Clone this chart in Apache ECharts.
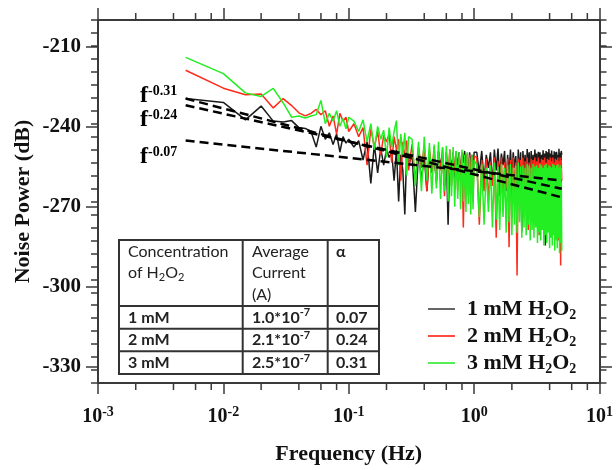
<!DOCTYPE html>
<html><head><meta charset="utf-8">
<script src="https://cdn.jsdelivr.net/npm/echarts@6/dist/echarts.min.js"></script>
<style>html,body{margin:0;padding:0;background:#fff}#c{width:616px;height:470px}</style>
</head><body><div id="c"></div>
<script>
// ---------- data ----------
const freqHz = [
  0.005,0.01,0.015,0.02,0.025,0.03,0.035,0.04,0.045,0.05,0.055,0.06,0.065,0.07,0.075,0.08,0.085,0.09,0.095,0.1,
  0.11,0.12,0.13,0.14,0.15,0.16,0.17,0.18,0.19,0.2,0.21,0.22,0.23,0.24,0.25,0.26,0.27,0.28,0.29,0.3,
  0.32,0.34,0.36,0.38,0.40,0.42,0.44,0.46,0.48,0.50,0.52,0.54,0.56,0.58,0.60,0.62,0.64,0.66,0.68,0.70,
  0.72,0.74,0.76,0.78,0.80,0.82,0.84,0.86,0.88,0.90,0.92,0.94,0.96,0.98,1.00,
  1.05,1.1,1.15,1.2,1.25,1.3,1.35,1.4,1.45,1.5,1.55,1.6,1.65,1.7,1.75,1.8,1.85,1.9,1.95,2.0,
  2.05,2.1,2.15,2.2,2.25,2.3,2.35,2.4,2.45,2.5,2.55,2.6,2.65,2.7,2.75,2.8,2.85,2.9,2.95,3.0,
  3.05,3.1,3.15,3.2,3.25,3.3,3.35,3.4,3.45,3.5,3.55,3.6,3.65,3.7,3.75,3.8,3.85,3.9,3.95,4.0,
  4.05,4.1,4.15,4.2,4.25,4.3,4.35,4.4,4.45,4.5,4.55,4.6,4.65,4.7,4.75,4.8,4.85,4.9,4.95,5.0
];
const noise1mM = [
  -230.3,-231.8,-238.5,-233.2,-239,-239.3,-238.8,-241.5,-241.8,-243,-249,-241,-246,-243.5,-248,-244,-251,-245,-247.5,-246,
  -249,-246.5,-254,-247,-263,-248,-259,-249.5,-256,-250,-253,-251,-262,-250,-270,-252,-258,-275,-251,-256,
  -252,-274,-251,-262,-252,-266,-251.5,-258,-253,-262,-251,-256,-252.5,-264,-251,-279,-252,-258,-251,-262,
  -252.5,-256,-251,-260,-252,-255,-250.5,-258,-252,-263,-251,-256,-252,-259,-251,
  -251,-259,-250.5,-262,-252,-257,-251,-264,-250,-258,-249.6,-261,-251.5,-256,-250.5,-266,-252,-259,-250,-262,
  -251,-257,-252.5,-268,-250,-260,-251,-281.6,-250.5,-258,-252,-263,-249.8,-257,-251,-265,-250.5,-259,-252,-261,
  -250,-256,-251.5,-270,-250.8,-258,-251,-262,-252,-257,-250.2,-279,-251.5,-287,-250.5,-260,-251,-264,-249.8,-258,
  -251.5,-263,-250.3,-257,-252,-275,-250.6,-259,-251,-266,-250.8,-258,-252,-262,-249.7,-257,-251.2,-268,-250.5,-252
];
const noise2mM = [
  -219.4,-226.3,-228.8,-228.5,-233.9,-230.3,-233,-235.8,-237,-236,-234.5,-236.5,-235,-241,-237,-244,-236,-239,-237.5,-243,
  -240,-245,-241.5,-256,-242,-249,-243,-252,-244.5,-247,-244,-255,-245,-250,-246,-262,-247,-253,-246.5,-258,
  -248,-262,-249,-257,-248.5,-266,-250,-259,-249,-263,-250.5,-258,-249.5,-268,-251,-260,-250,-264,-251.5,-259,
  -250.5,-266,-252,-261,-251,-280,-252.5,-263,-251.5,-268,-252,-262,-253,-270,-252.5,
  -253,-279,-254,-266,-253.5,-270,-255,-264,-253,-284,-254.5,-268,-253,-272,-255,-265,-253.5,-287.6,-254,-270,
  -253,-266,-255,-298.5,-253.5,-271,-254,-267,-253,-276,-254.5,-268,-253,-281,-255,-269,-253.5,-273,-254,-266,
  -253,-278,-254.5,-268,-253,-283,-255,-270,-253.5,-267,-254,-275,-253,-269,-255,-280,-253.5,-271,-254,-268,
  -253,-282,-254.5,-270,-253,-274,-255,-269,-253.5,-278,-254,-271,-253,-285,-254.5,-272,-253,-294.7,-254,-262
];
const noise3mM = [
  -214.4,-220.7,-228.1,-229.5,-226.4,-232,-237.5,-237,-237.8,-237,-236.5,-231,-240,-236,-239,-235,-241,-238,-242,-237.5,
  -239,-243,-238.5,-247,-240,-250,-241,-246,-242.5,-253,-241.5,-249,-243,-238.8,-256,-244,-252,-243.5,-260,-245,
  -246,-264,-247,-266,-245,-262,-247.5,-267,-248,-265,-247,-269,-249,-266,-248.5,-270,-250,-268,-249,-272,
  -250.5,-269,-251,-273,-250,-270,-252,-274,-251,-271,-253,-275,-252,-273,-254,
  -256,-276,-255.5,-279,-257,-274,-256,-280,-255,-277,-256.5,-281,-255.5,-276,-257,-282,-256,-278,-255.5,-283,
  -257,-279,-256,-282,-255,-278,-256.5,-284,-256,-280,-257,-283,-255.5,-279,-256,-285,-257,-281,-255.5,-284,
  -256.5,-280,-256,-286,-257,-282,-255.5,-285,-256,-281,-257,-287,-256,-283,-255.5,-286,-257,-282,-256,-288,
  -256.5,-284,-257,-287,-255.5,-283,-256,-289,-257,-285,-256,-288,-255.5,-284,-257,-290,-256,-286,-257,-289
];
const fitFreq = [0.005, 5];
const fit031 = [-230.3, -268.4];
const fit024 = [-232.9, -265.1];
const fit007 = [-246.5, -261.9];
const fitExponents = ['-0.31', '-0.24', '-0.07'];
const seriesConc = ['1', '2', '3'];
const xMinorTicks = [0.002,0.004,0.006,0.008,0.02,0.04,0.06,0.08,0.2,0.4,0.6,0.8,2,4,6,8];
const tableConc = ['1 mM', '2 mM', '3 mM'];
const tableCurrent = ['1.0', '2.1', '2.5'];
const tableCurrentExp = '-7';
const tableAlpha = ['0.07', '0.24', '0.31'];

// ---------- styling ----------
const SERIF = '"Liberation Serif", "Times New Roman", serif';
const SANS = 'Lato, "Open Sans", sans-serif';
const AX = '#3a3a3a';
const Y_MIN = -340, Y_MAX = -200;
const pairs = (xs, ys) => xs.map((x, i) => [x, ys[i]]);

const chart = echarts.init(document.getElementById('c'), null, {renderer: 'canvas'});

const axisLabelRich = {
  b: {fontFamily: SERIF, fontWeight: 'bold', fontSize: 20, lineHeight: 24, color: '#111'},
  s: {fontFamily: SERIF, fontWeight: 'bold', fontSize: 14, lineHeight: 14, verticalAlign: 'top', color: '#111'}
};

const legendNames = seriesConc.map(c => c + ' mM H2O2');
const colors = ['#1a1a1a', '#ff2a1a', '#22ee22'];
const legendColors = ['#666666', '#ff4a40', '#55ee55'];

// table graphic
const TX = 119, TY = 240, TW = 260, TH = 134;
const colX = [TX, 242.7, 327.7, TX + TW];
const rowY = [TY, 306, 328.7, 351.3, TY + TH];
const tRich = {
  a: {fontFamily: SANS, fontSize: 16, color: '#222', lineHeight: 20},
  s: {fontFamily: SANS, fontSize: 11, color: '#222', lineHeight: 11, verticalAlign: 'bottom'},
  p: {fontFamily: SANS, fontSize: 11, color: '#222', lineHeight: 11, verticalAlign: 'top'},
  A: {fontFamily: SANS, fontSize: 16, fontWeight: 'bold', color: '#222', lineHeight: 20},
  P: {fontFamily: SANS, fontSize: 11, fontWeight: 'bold', color: '#222', lineHeight: 11, verticalAlign: 'top'}
};
function tText(x, y, txt) {
  return {type: 'text', x: x, y: y, z: 100,
    style: {text: txt, rich: tRich, fontFamily: SANS, fontSize: 16, fill: '#222',
      align: 'left', verticalAlign: 'middle', textAlign: 'left', textVerticalAlign: 'middle'}};
}
const tableEls = [
  {type: 'rect', z: 99, shape: {x: TX, y: TY, width: TW, height: TH}, style: {fill: '#fff', stroke: '#333', lineWidth: 2}}
];
[colX[1], colX[2]].forEach(x => tableEls.push({type: 'line', z: 99, shape: {x1: x, y1: TY, x2: x, y2: TY + TH}, style: {stroke: '#333', lineWidth: 2}}));
[rowY[1], rowY[2], rowY[3]].forEach(y => tableEls.push({type: 'line', z: 99, shape: {x1: TX, y1: y, x2: TX + TW, y2: y}, style: {stroke: '#333', lineWidth: 2}}));
tableEls.push(tText(128, 252, '{a|Concentration}'));
tableEls.push(tText(128, 273, '{a|of H}{s|2}{a|O}{s|2}'));
tableEls.push(tText(252, 252, '{a|Average}'));
tableEls.push(tText(252, 273, '{a|Current}'));
tableEls.push(tText(252, 295, '{a|(A)}'));
tableEls.push(tText(336, 252, '{A|α}'));
for (let i = 0; i < 3; i++) {
  const cy = (rowY[i + 1] + rowY[i + 2]) / 2;
  tableEls.push(tText(128, cy, '{A|' + tableConc[i] + '}'));
  tableEls.push(tText(252, cy, '{A|' + tableCurrent[i] + '*10}{P|' + tableCurrentExp + '}'));
  tableEls.push(tText(336, cy, '{A|' + tableAlpha[i] + '}'));
}

// fit labels
const fitLabelPos = [[140, 96], [140, 120], [140, 157]];
const fitLabelEls = fitExponents.map((e, i) => ({
  type: 'text', x: fitLabelPos[i][0], y: fitLabelPos[i][1], z: 100,
  style: {text: '{f|f}{s|' + e + '}',
    rich: {
      f: {fontFamily: SERIF, fontWeight: 'bold', fontSize: 24, lineHeight: 24, color: '#111'},
      s: {fontFamily: SERIF, fontWeight: 'bold', fontSize: 14, lineHeight: 14, verticalAlign: 'top', color: '#111'}
    },
    align: 'left', verticalAlign: 'middle', textAlign: 'left', textVerticalAlign: 'middle'}
}));

const option = {
  animation: false,
  backgroundColor: '#fff',
  grid: [
    {left: 98, top: 20, width: 503, height: 373},
    {left: 98, top: 20 + 10 * 373 / 140, width: 503, height: 120 * 373 / 140}
  ],
  xAxis: [
    {type: 'log', logBase: 10, min: 0.001, max: 10, gridIndex: 0, position: 'bottom',
     name: 'Frequency (Hz)', nameLocation: 'middle', nameGap: 60,
     nameTextStyle: {fontFamily: SERIF, fontWeight: 'bold', fontSize: 22, color: '#111'},
     axisLine: {show: true, onZero: false, lineStyle: {color: AX, width: 2}},
     axisTick: {show: true, length: 11, lineStyle: {color: AX, width: 1.5}},
     minorTick: {show: false}, splitLine: {show: false},
     axisLabel: {show: true, margin: 22, formatter: v => '{b|10}{s|' + Math.round(Math.log10(v)) + '}', rich: axisLabelRich}},
    {type: 'log', logBase: 10, min: 0.001, max: 10, gridIndex: 0, position: 'top',
     axisLine: {show: true, onZero: false, lineStyle: {color: AX, width: 2}},
     axisTick: {show: true, length: 12, lineStyle: {color: AX, width: 1.5}},
     splitLine: {show: false}, axisLabel: {show: false}},
    {type: 'value', gridIndex: 1, min: 0, max: 1, show: false}
  ],
  yAxis: [
    {type: 'value', gridIndex: 0, min: Y_MIN, max: Y_MAX, interval: 5, position: 'left',
     name: 'Noise Power (dB)', nameLocation: 'middle', nameGap: 64,
     nameTextStyle: {fontFamily: SERIF, fontWeight: 'bold', fontSize: 22, color: '#111'},
     axisLine: {show: true, onZero: false, lineStyle: {color: AX, width: 2}},
     axisTick: {show: true, length: 7, lineStyle: {color: AX, width: 1.5}},
     splitLine: {show: false}, axisLabel: {show: false}},
    {type: 'value', gridIndex: 0, min: Y_MIN, max: Y_MAX, interval: 5, position: 'right',
     axisLine: {show: true, onZero: false, lineStyle: {color: AX, width: 2}},
     axisTick: {show: true, length: 7, lineStyle: {color: AX, width: 1.5}},
     splitLine: {show: false}, axisLabel: {show: false}},
    {type: 'value', gridIndex: 1, min: -330, max: -210, interval: 30, position: 'left',
     axisLine: {show: false}, splitLine: {show: false},
     axisTick: {show: true, length: 12, lineStyle: {color: AX, width: 1.5}},
     axisLabel: {show: true, margin: 17, fontFamily: SERIF, fontWeight: 'bold', fontSize: 21, color: '#111'}},
    {type: 'value', gridIndex: 1, min: -330, max: -210, interval: 30, position: 'right',
     axisLine: {show: false}, splitLine: {show: false},
     axisTick: {show: true, length: 11, lineStyle: {color: AX, width: 1.5}},
     axisLabel: {show: false}}
  ],
  legend: {
    orient: 'vertical', left: 428, top: 298, padding: 0, itemGap: 3,
    itemWidth: 27, itemHeight: 2, icon: 'rect',
    data: legendNames.map((n, i) => ({name: n, itemStyle: {color: legendColors[i]}})),
    formatter: name => '{n|' + name.split(' ')[0] + ' mM H}{s|2}{n|O}{s|2}',
    textStyle: {
      padding: [0, 0, 0, 7],
      rich: {
        n: {fontFamily: SERIF, fontWeight: 'bold', fontSize: 22, lineHeight: 26, color: '#111'},
        s: {fontFamily: SERIF, fontWeight: 'bold', fontSize: 14, lineHeight: 14, verticalAlign: 'bottom', color: '#111'}
      }
    }
  },
  graphic: tableEls.concat(fitLabelEls),
  series: [
    {name: legendNames[0], type: 'line', xAxisIndex: 0, yAxisIndex: 0, data: pairs(freqHz, noise1mM),
     showSymbol: false, symbol: 'none', lineStyle: {color: colors[0], width: 1.5}, itemStyle: {color: colors[0]}, z: 2},
    {name: legendNames[1], type: 'line', xAxisIndex: 0, yAxisIndex: 0, data: pairs(freqHz, noise2mM),
     showSymbol: false, symbol: 'none', lineStyle: {color: colors[1], width: 1.5}, itemStyle: {color: colors[1]}, z: 3},
    {name: legendNames[2], type: 'line', xAxisIndex: 0, yAxisIndex: 0, data: pairs(freqHz, noise3mM),
     showSymbol: false, symbol: 'none', lineStyle: {color: colors[2], width: 1.5}, itemStyle: {color: colors[2]}, z: 4},
    ...[fit031, fit024, fit007].map(fit => ({
      type: 'line', xAxisIndex: 0, yAxisIndex: 0, data: pairs(fitFreq, fit), symbol: 'none', z: 5,
      lineStyle: {color: '#000', width: 2.5, type: [9, 5]}
    })),
    {type: 'custom', xAxisIndex: 0, yAxisIndex: 0, silent: true, z: 6,
     data: xMinorTicks.map(f => [f]),
     renderItem: (params, api) => {
       const f = api.value(0);
       const b = api.coord([f, Y_MIN]);
       const t = api.coord([f, Y_MAX]);
       return {type: 'group', children: [
         {type: 'line', shape: {x1: b[0], y1: b[1], x2: b[0], y2: b[1] + 7}, style: {stroke: AX, lineWidth: 1.5}},
         {type: 'line', shape: {x1: t[0], y1: t[1], x2: t[0], y2: t[1] - 7}, style: {stroke: AX, lineWidth: 1.5}}
       ]};
     }}
  ]
};
chart.setOption(option);
</script></body></html>
